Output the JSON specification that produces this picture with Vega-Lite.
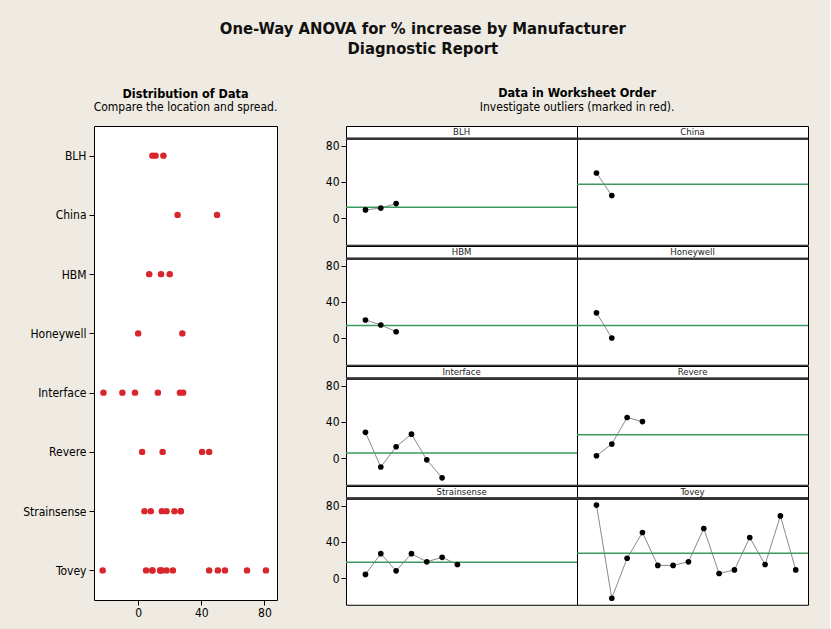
{
  "$schema": "https://vega.github.io/schema/vega-lite/v6.json",
  "background": "#efebe2",
  "padding": {"left": 22, "top": 20, "right": 20, "bottom": 10},
  "title": {
    "text": ["One-Way ANOVA for % increase by Manufacturer", "Diagnostic Report"],
    "fontSize": 16.5,
    "fontWeight": "bold",
    "color": "#111111",
    "anchor": "middle",
    "lineHeight": 20,
    "dx": 7,
    "offset": 30
  },
  "config": {
    "font": "DejaVu Sans Condensed, Liberation Sans, sans-serif",
    "view": {"fill": "white", "stroke": "black", "strokeWidth": 1},
    "axis": {
      "domain": false,
      "grid": false,
      "tickColor": "black",
      "tickSize": 5,
      "labelColor": "black",
      "labelFontSize": 12,
      "labelPadding": 2,
      "title": null
    },
    "title": {"fontSize": 12.5, "fontWeight": "bold", "subtitleFontSize": 12, "subtitleColor": "black", "color": "black", "subtitlePadding": 2}
  },
  "data": {
    "values": [
      {"m": "BLH", "i": 1, "v": 9},
      {"m": "BLH", "i": 2, "v": 11},
      {"m": "BLH", "i": 3, "v": 16},
      {"m": "China", "i": 1, "v": 50},
      {"m": "China", "i": 2, "v": 25},
      {"m": "HBM", "i": 1, "v": 20},
      {"m": "HBM", "i": 2, "v": 14.5},
      {"m": "HBM", "i": 3, "v": 7},
      {"m": "Honeywell", "i": 1, "v": 28},
      {"m": "Honeywell", "i": 2, "v": 0},
      {"m": "Interface", "i": 1, "v": 28.5},
      {"m": "Interface", "i": 2, "v": -10},
      {"m": "Interface", "i": 3, "v": 12.5},
      {"m": "Interface", "i": 4, "v": 26.5},
      {"m": "Interface", "i": 5, "v": -2},
      {"m": "Interface", "i": 6, "v": -22},
      {"m": "Revere", "i": 1, "v": 2.5},
      {"m": "Revere", "i": 2, "v": 15.5},
      {"m": "Revere", "i": 3, "v": 45},
      {"m": "Revere", "i": 4, "v": 40.5},
      {"m": "Strainsense", "i": 1, "v": 4},
      {"m": "Strainsense", "i": 2, "v": 27},
      {"m": "Strainsense", "i": 3, "v": 8},
      {"m": "Strainsense", "i": 4, "v": 27},
      {"m": "Strainsense", "i": 5, "v": 18},
      {"m": "Strainsense", "i": 6, "v": 23},
      {"m": "Strainsense", "i": 7, "v": 15},
      {"m": "Tovey", "i": 1, "v": 81},
      {"m": "Tovey", "i": 2, "v": -22.5},
      {"m": "Tovey", "i": 3, "v": 22},
      {"m": "Tovey", "i": 4, "v": 50.5},
      {"m": "Tovey", "i": 5, "v": 14},
      {"m": "Tovey", "i": 6, "v": 14},
      {"m": "Tovey", "i": 7, "v": 18},
      {"m": "Tovey", "i": 8, "v": 55},
      {"m": "Tovey", "i": 9, "v": 5},
      {"m": "Tovey", "i": 10, "v": 9},
      {"m": "Tovey", "i": 11, "v": 45},
      {"m": "Tovey", "i": 12, "v": 15},
      {"m": "Tovey", "i": 13, "v": 69},
      {"m": "Tovey", "i": 14, "v": 9}
    ]
  },
  "spacing": 46,
  "hconcat": [
    {
      "title": {"text": "Distribution of Data", "subtitle": "Compare the location and spread.", "frame": "group", "anchor": "middle", "offset": 13},
      "width": 183,
      "height": 474,
      "mark": {"type": "point", "filled": true, "size": 42, "color": "#d9262c", "opacity": 1},
      "encoding": {
        "x": {"field": "v", "type": "quantitative", "scale": {"domain": [-28, 88], "nice": false, "zero": false}, "axis": {"values": [0, 40, 80]}},
        "y": {"field": "m", "type": "nominal", "sort": ["BLH", "China", "HBM", "Honeywell", "Interface", "Revere", "Strainsense", "Tovey"], "axis": {"labelPadding": 3}}
      }
    },
    {
      "title": {"text": "Data in Worksheet Order", "subtitle": "Investigate outliers (marked in red).", "frame": "bounds", "anchor": "middle", "offset": 13, "dx": 10},
      "spacing": -2.25,
      "vconcat": [
        {"spacing": 0, "bounds": "flush", "hconcat": [
          {"transform": [{"filter": {"field": "m", "equal": "BLH"}}], "width": 231, "height": 118.75, "layer": [
            {"mark": {"type": "line", "color": "#8a8a8a", "strokeWidth": 1}, "encoding": {"x": {"field": "i", "type": "quantitative", "scale": {"domain": [-0.27, 14.8], "nice": false, "zero": false}, "axis": null}, "y": {"field": "v", "type": "quantitative", "scale": {"domain": [-29.7, 102.2], "nice": false, "zero": false}, "axis": {"values": [0, 40, 80]}}}},
            {"mark": {"type": "rule", "color": "#3c9a5f", "strokeWidth": 1.5}, "encoding": {"y": {"aggregate": "mean", "field": "v", "type": "quantitative"}}},
            {"mark": {"type": "point", "filled": true, "size": 32, "color": "black", "opacity": 1}, "encoding": {"x": {"field": "i", "type": "quantitative"}, "y": {"field": "v", "type": "quantitative"}}},
            {"mark": {"type": "rule", "color": "#333333", "strokeWidth": 2}, "encoding": {"y": {"datum": 88, "type": "quantitative"}}},
            {"transform": [{"aggregate": [{"op": "count", "as": "n"}], "groupby": ["m"]}], "mark": {"type": "text", "fontSize": 9.5, "baseline": "middle", "align": "center", "color": "#222222"}, "encoding": {"x": {"datum": 7.27, "type": "quantitative"}, "y": {"datum": 95.3, "type": "quantitative"}, "text": {"field": "m", "type": "nominal"}}}
          ]},
          {"transform": [{"filter": {"field": "m", "equal": "China"}}], "width": 231, "height": 118.75, "layer": [
            {"mark": {"type": "line", "color": "#8a8a8a", "strokeWidth": 1}, "encoding": {"x": {"field": "i", "type": "quantitative", "scale": {"domain": [-0.27, 14.8], "nice": false, "zero": false}, "axis": null}, "y": {"field": "v", "type": "quantitative", "scale": {"domain": [-29.7, 102.2], "nice": false, "zero": false}, "axis": null}}},
            {"mark": {"type": "rule", "color": "#3c9a5f", "strokeWidth": 1.5}, "encoding": {"y": {"aggregate": "mean", "field": "v", "type": "quantitative"}}},
            {"mark": {"type": "point", "filled": true, "size": 32, "color": "black", "opacity": 1}, "encoding": {"x": {"field": "i", "type": "quantitative"}, "y": {"field": "v", "type": "quantitative"}}},
            {"mark": {"type": "rule", "color": "#333333", "strokeWidth": 2}, "encoding": {"y": {"datum": 88, "type": "quantitative"}}},
            {"transform": [{"aggregate": [{"op": "count", "as": "n"}], "groupby": ["m"]}], "mark": {"type": "text", "fontSize": 9.5, "baseline": "middle", "align": "center", "color": "#222222"}, "encoding": {"x": {"datum": 7.27, "type": "quantitative"}, "y": {"datum": 95.3, "type": "quantitative"}, "text": {"field": "m", "type": "nominal"}}}
          ]}
        ]},
        {"spacing": 0, "bounds": "flush", "hconcat": [
          {"transform": [{"filter": {"field": "m", "equal": "HBM"}}], "width": 231, "height": 118.75, "layer": [
            {"mark": {"type": "line", "color": "#8a8a8a", "strokeWidth": 1}, "encoding": {"x": {"field": "i", "type": "quantitative", "scale": {"domain": [-0.27, 14.8], "nice": false, "zero": false}, "axis": null}, "y": {"field": "v", "type": "quantitative", "scale": {"domain": [-29.7, 102.2], "nice": false, "zero": false}, "axis": {"values": [0, 40, 80]}}}},
            {"mark": {"type": "rule", "color": "#3c9a5f", "strokeWidth": 1.5}, "encoding": {"y": {"aggregate": "mean", "field": "v", "type": "quantitative"}}},
            {"mark": {"type": "point", "filled": true, "size": 32, "color": "black", "opacity": 1}, "encoding": {"x": {"field": "i", "type": "quantitative"}, "y": {"field": "v", "type": "quantitative"}}},
            {"mark": {"type": "rule", "color": "#333333", "strokeWidth": 2}, "encoding": {"y": {"datum": 88, "type": "quantitative"}}},
            {"transform": [{"aggregate": [{"op": "count", "as": "n"}], "groupby": ["m"]}], "mark": {"type": "text", "fontSize": 9.5, "baseline": "middle", "align": "center", "color": "#222222"}, "encoding": {"x": {"datum": 7.27, "type": "quantitative"}, "y": {"datum": 95.3, "type": "quantitative"}, "text": {"field": "m", "type": "nominal"}}}
          ]},
          {"transform": [{"filter": {"field": "m", "equal": "Honeywell"}}], "width": 231, "height": 118.75, "layer": [
            {"mark": {"type": "line", "color": "#8a8a8a", "strokeWidth": 1}, "encoding": {"x": {"field": "i", "type": "quantitative", "scale": {"domain": [-0.27, 14.8], "nice": false, "zero": false}, "axis": null}, "y": {"field": "v", "type": "quantitative", "scale": {"domain": [-29.7, 102.2], "nice": false, "zero": false}, "axis": null}}},
            {"mark": {"type": "rule", "color": "#3c9a5f", "strokeWidth": 1.5}, "encoding": {"y": {"aggregate": "mean", "field": "v", "type": "quantitative"}}},
            {"mark": {"type": "point", "filled": true, "size": 32, "color": "black", "opacity": 1}, "encoding": {"x": {"field": "i", "type": "quantitative"}, "y": {"field": "v", "type": "quantitative"}}},
            {"mark": {"type": "rule", "color": "#333333", "strokeWidth": 2}, "encoding": {"y": {"datum": 88, "type": "quantitative"}}},
            {"transform": [{"aggregate": [{"op": "count", "as": "n"}], "groupby": ["m"]}], "mark": {"type": "text", "fontSize": 9.5, "baseline": "middle", "align": "center", "color": "#222222"}, "encoding": {"x": {"datum": 7.27, "type": "quantitative"}, "y": {"datum": 95.3, "type": "quantitative"}, "text": {"field": "m", "type": "nominal"}}}
          ]}
        ]},
        {"spacing": 0, "bounds": "flush", "hconcat": [
          {"transform": [{"filter": {"field": "m", "equal": "Interface"}}], "width": 231, "height": 118.75, "layer": [
            {"mark": {"type": "line", "color": "#8a8a8a", "strokeWidth": 1}, "encoding": {"x": {"field": "i", "type": "quantitative", "scale": {"domain": [-0.27, 14.8], "nice": false, "zero": false}, "axis": null}, "y": {"field": "v", "type": "quantitative", "scale": {"domain": [-29.7, 102.2], "nice": false, "zero": false}, "axis": {"values": [0, 40, 80]}}}},
            {"mark": {"type": "rule", "color": "#3c9a5f", "strokeWidth": 1.5}, "encoding": {"y": {"aggregate": "mean", "field": "v", "type": "quantitative"}}},
            {"mark": {"type": "point", "filled": true, "size": 32, "color": "black", "opacity": 1}, "encoding": {"x": {"field": "i", "type": "quantitative"}, "y": {"field": "v", "type": "quantitative"}}},
            {"mark": {"type": "rule", "color": "#333333", "strokeWidth": 2}, "encoding": {"y": {"datum": 88, "type": "quantitative"}}},
            {"transform": [{"aggregate": [{"op": "count", "as": "n"}], "groupby": ["m"]}], "mark": {"type": "text", "fontSize": 9.5, "baseline": "middle", "align": "center", "color": "#222222"}, "encoding": {"x": {"datum": 7.27, "type": "quantitative"}, "y": {"datum": 95.3, "type": "quantitative"}, "text": {"field": "m", "type": "nominal"}}}
          ]},
          {"transform": [{"filter": {"field": "m", "equal": "Revere"}}], "width": 231, "height": 118.75, "layer": [
            {"mark": {"type": "line", "color": "#8a8a8a", "strokeWidth": 1}, "encoding": {"x": {"field": "i", "type": "quantitative", "scale": {"domain": [-0.27, 14.8], "nice": false, "zero": false}, "axis": null}, "y": {"field": "v", "type": "quantitative", "scale": {"domain": [-29.7, 102.2], "nice": false, "zero": false}, "axis": null}}},
            {"mark": {"type": "rule", "color": "#3c9a5f", "strokeWidth": 1.5}, "encoding": {"y": {"aggregate": "mean", "field": "v", "type": "quantitative"}}},
            {"mark": {"type": "point", "filled": true, "size": 32, "color": "black", "opacity": 1}, "encoding": {"x": {"field": "i", "type": "quantitative"}, "y": {"field": "v", "type": "quantitative"}}},
            {"mark": {"type": "rule", "color": "#333333", "strokeWidth": 2}, "encoding": {"y": {"datum": 88, "type": "quantitative"}}},
            {"transform": [{"aggregate": [{"op": "count", "as": "n"}], "groupby": ["m"]}], "mark": {"type": "text", "fontSize": 9.5, "baseline": "middle", "align": "center", "color": "#222222"}, "encoding": {"x": {"datum": 7.27, "type": "quantitative"}, "y": {"datum": 95.3, "type": "quantitative"}, "text": {"field": "m", "type": "nominal"}}}
          ]}
        ]},
        {"spacing": 0, "bounds": "flush", "hconcat": [
          {"transform": [{"filter": {"field": "m", "equal": "Strainsense"}}], "width": 231, "height": 118.75, "layer": [
            {"mark": {"type": "line", "color": "#8a8a8a", "strokeWidth": 1}, "encoding": {"x": {"field": "i", "type": "quantitative", "scale": {"domain": [-0.27, 14.8], "nice": false, "zero": false}, "axis": null}, "y": {"field": "v", "type": "quantitative", "scale": {"domain": [-29.7, 102.2], "nice": false, "zero": false}, "axis": {"values": [0, 40, 80]}}}},
            {"mark": {"type": "rule", "color": "#3c9a5f", "strokeWidth": 1.5}, "encoding": {"y": {"aggregate": "mean", "field": "v", "type": "quantitative"}}},
            {"mark": {"type": "point", "filled": true, "size": 32, "color": "black", "opacity": 1}, "encoding": {"x": {"field": "i", "type": "quantitative"}, "y": {"field": "v", "type": "quantitative"}}},
            {"mark": {"type": "rule", "color": "#333333", "strokeWidth": 2}, "encoding": {"y": {"datum": 88, "type": "quantitative"}}},
            {"transform": [{"aggregate": [{"op": "count", "as": "n"}], "groupby": ["m"]}], "mark": {"type": "text", "fontSize": 9.5, "baseline": "middle", "align": "center", "color": "#222222"}, "encoding": {"x": {"datum": 7.27, "type": "quantitative"}, "y": {"datum": 95.3, "type": "quantitative"}, "text": {"field": "m", "type": "nominal"}}}
          ]},
          {"transform": [{"filter": {"field": "m", "equal": "Tovey"}}], "width": 231, "height": 118.75, "layer": [
            {"mark": {"type": "line", "color": "#8a8a8a", "strokeWidth": 1}, "encoding": {"x": {"field": "i", "type": "quantitative", "scale": {"domain": [-0.27, 14.8], "nice": false, "zero": false}, "axis": null}, "y": {"field": "v", "type": "quantitative", "scale": {"domain": [-29.7, 102.2], "nice": false, "zero": false}, "axis": null}}},
            {"mark": {"type": "rule", "color": "#3c9a5f", "strokeWidth": 1.5}, "encoding": {"y": {"aggregate": "mean", "field": "v", "type": "quantitative"}}},
            {"mark": {"type": "point", "filled": true, "size": 32, "color": "black", "opacity": 1}, "encoding": {"x": {"field": "i", "type": "quantitative"}, "y": {"field": "v", "type": "quantitative"}}},
            {"mark": {"type": "rule", "color": "#333333", "strokeWidth": 2}, "encoding": {"y": {"datum": 88, "type": "quantitative"}}},
            {"transform": [{"aggregate": [{"op": "count", "as": "n"}], "groupby": ["m"]}], "mark": {"type": "text", "fontSize": 9.5, "baseline": "middle", "align": "center", "color": "#222222"}, "encoding": {"x": {"datum": 7.27, "type": "quantitative"}, "y": {"datum": 95.3, "type": "quantitative"}, "text": {"field": "m", "type": "nominal"}}}
          ]}
        ]}
      ]
    }
  ]
}
